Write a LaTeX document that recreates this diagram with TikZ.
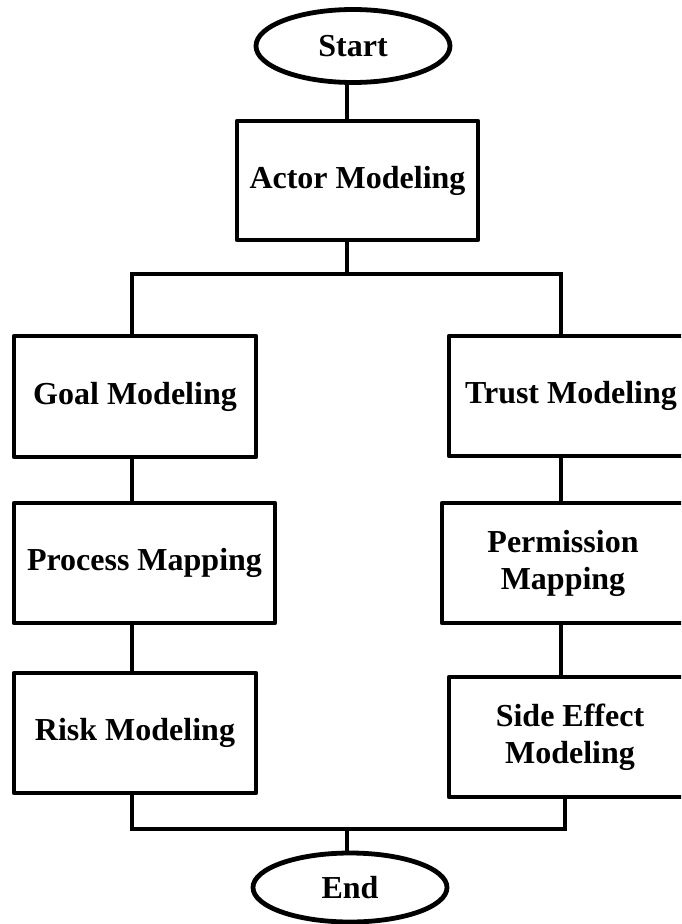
\documentclass[tikz,border=0pt]{standalone}
\usepackage{fontspec}
\setmainfont{Liberation Serif}
\usetikzlibrary{shapes.geometric}
\begin{document}
\begin{tikzpicture}[x=1pt,y=1pt,
  line width=4.8pt,
  every node/.style={font=\bfseries\fontsize{32}{37}\selectfont, align=center, inner sep=0pt},
  stepbox/.style={draw, rectangle, line join=round, minimum height=120pt},
  terminal/.style={draw, ellipse, minimum width=194pt},
  link/.style={line join=miter, line cap=butt}]
  \useasboundingbox (0,0) rectangle (681,-924);
  \clip (0,0) rectangle (681,-924);

  % start / end terminals
  \node[terminal, minimum height=73pt] (start) at (353,-46) {Start};
  \node[terminal, minimum height=69pt] (end) at (350,-887.5) {End};

  % process steps
  \node[stepbox, minimum width=241pt, minimum height=119pt] (actor) at (357.5,-180.5) {Actor Modeling};
  \node[stepbox, minimum width=242pt, minimum height=121pt] (goal) at (135,-396.5) {Goal Modeling};
  \node[stepbox, minimum width=261pt] (process) at (144.5,-563) {Process Mapping};
  \node[stepbox, minimum width=242pt] (risk) at (135,-733) {Risk Modeling};
  \node[stepbox, minimum width=244pt] (trust) at (571,-396) {Trust Modeling};
  \node[stepbox, minimum width=242pt] (perm) at (563,-563) {Permission\\Mapping};
  \node[stepbox, minimum width=242pt] (side) at (570,-737) {Side Effect\\Modeling};

  % branch and merge points
  \coordinate (tl) at (132,-274);
  \coordinate (tr) at (561,-274);
  \coordinate (bl) at (132,-829);
  \coordinate (br) at (565,-829);
  \coordinate (tm) at (347,-274);
  \coordinate (bm) at (347,-829);

  % connectors
  \draw[link] (tm |- start.south) -- (tm |- actor.north);
  \draw[link] (tm |- actor.south) -- (tm);
  \draw[link] (tl |- goal.north) -- (tl) -- (tr) -- (tr |- trust.north);
  \draw[link] (tl |- goal.south) -- (tl |- process.north);
  \draw[link] (tl |- process.south) -- (tl |- risk.north);
  \draw[link] (tr |- trust.south) -- (tr |- perm.north);
  \draw[link] (tr |- perm.south) -- (tr |- side.north);
  \draw[link] (tl |- risk.south) -- (bl) -- (br) -- (br |- side.south);
  \draw[link] (bm) -- (bm |- end.north);
\end{tikzpicture}
\end{document}
